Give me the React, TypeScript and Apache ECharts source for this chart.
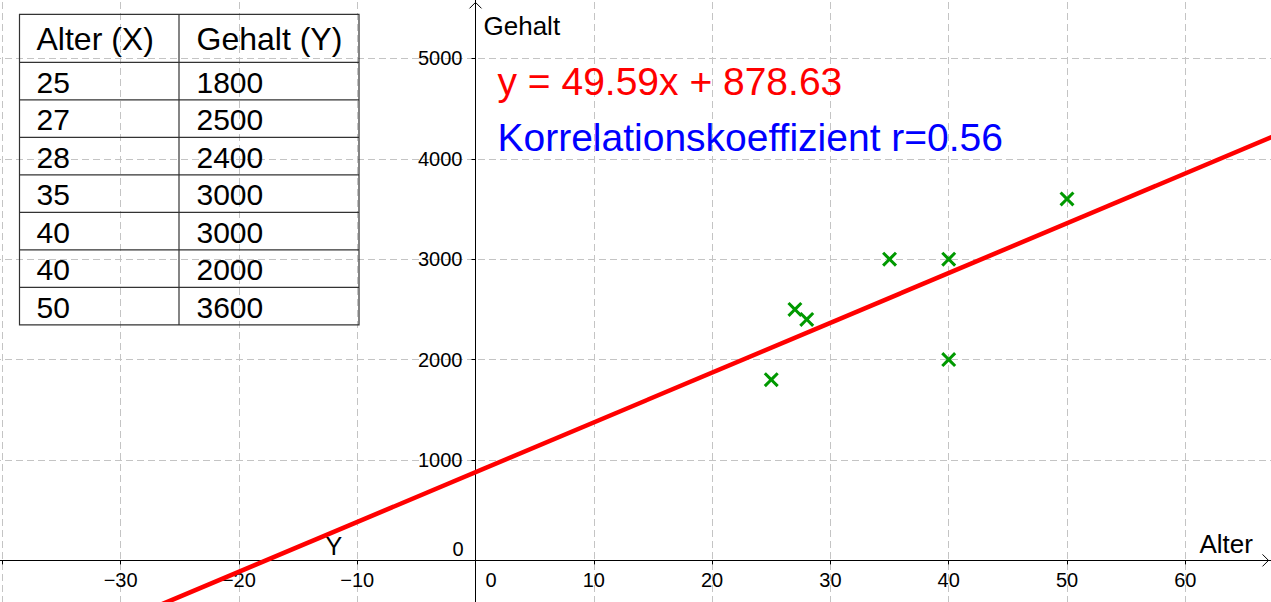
import React, { useEffect, useRef } from "react";
import * as echarts from "echarts";

// ---- data ----
const alterValues: number[] = [25, 27, 28, 35, 40, 40, 50];
const gehaltValues: number[] = [1800, 2500, 2400, 3000, 3000, 2000, 3600];
const tableHeaders: string[] = ["Alter (X)", "Gehalt (Y)"];
const slope = 49.59;
const intercept = 878.63;
const corrR = 0.56;
const xAxisName = "Alter";
const yAxisName = "Gehalt";
const lineLabel = "Y";

const X_MIN = -50;
const X_MAX = 70;
const Y_MIN = -1000;
const Y_MAX = 6000;
// labelled tick range (the rest of the axis lies outside the window)
const X_LABEL_RANGE = [-30, 60];
const Y_LABEL_RANGE = [1000, 5000];

const FONT = "'Liberation Sans', Arial, sans-serif";

// the chart canvas is larger than the window; these are its offsets
const OX = 116.5;
const OY = 42.4;
const VIEW_W = 1271;
const VIEW_H = 602;
const CHART_W = VIEW_W + OX + 32.1;
const CHART_H = VIEW_H + OY + 58.4;

export default function App() {
  const ref = useRef<HTMLDivElement>(null);

  useEffect(() => {
    document.body.style.margin = "0";
    document.body.style.overflow = "hidden";
    if (!ref.current) return;
    const chart = echarts.init(ref.current, undefined, { renderer: "svg", width: CHART_W, height: CHART_H });

    const points = alterValues.map((x, i) => [x, gehaltValues[i]]);
    const lineData = [
      [X_MIN, slope * X_MIN + intercept],
      [X_MAX, slope * X_MAX + intercept],
    ];
    const fmt = (range: number[]) => (v: number) =>
      v === 0 || v < range[0] || v > range[1] ? "" : v < 0 ? "\u2212" + Math.abs(v) : String(v);
    const gridLine = { show: true, lineStyle: { color: "#c4c4c4", width: 1, type: [7, 4] as any } };

    // distance of the zero lines from the grid's left / bottom edges
    const yAxisShift = ((0 - X_MIN) / (X_MAX - X_MIN)) * CHART_W;
    const xAxisShift = ((0 - Y_MIN) / (Y_MAX - Y_MIN)) * CHART_H;

    const option: any = {
      animation: false,
      backgroundColor: "#ffffff",
      grid: { left: 0, right: 0, top: 0, bottom: 0, containLabel: false, outerBoundsMode: "none" },
      xAxis: {
        type: "value",
        position: "bottom",
        offset: -xAxisShift,
        min: X_MIN,
        max: X_MAX,
        interval: 10,
        axisLine: { show: true, onZero: false, lineStyle: { color: "#000", width: 1 } },
        axisTick: { show: true, length: 4, lineStyle: { color: "#000" } },
        axisLabel: { color: "#000", fontFamily: FONT, fontSize: 20, margin: 10, formatter: fmt(X_LABEL_RANGE) },
        splitLine: gridLine,
      },
      yAxis: {
        type: "value",
        position: "left",
        offset: -yAxisShift,
        min: Y_MIN,
        max: Y_MAX,
        interval: 1000,
        axisLine: { show: true, onZero: false, lineStyle: { color: "#000", width: 1 } },
        axisTick: { show: true, length: 4, lineStyle: { color: "#000" } },
        axisLabel: { color: "#000", fontFamily: FONT, fontSize: 20, margin: 13, formatter: fmt(Y_LABEL_RANGE) },
        splitLine: gridLine,
      },
      series: [
        {
          type: "line",
          data: lineData,
          symbol: "none",
          lineStyle: { color: "#ff0000", width: 4.5 },
          z: 3,
          silent: true,
        },
        {
          type: "scatter",
          data: points,
          symbol: "path://M0,2L2,0L7,5L12,0L14,2L9,7L14,12L12,14L7,9L2,14L0,12L5,7Z",
          symbolSize: 15,
          itemStyle: { color: "#009900", opacity: 1 },
          z: 4,
        },
      ],
    };
    chart.setOption(option);

    const [ox, oy] = chart.convertToPixel({ gridIndex: 0 }, [0, 0]) as number[];
    const graphics: any[] = [];
    const txt = (x: number, y: number, text: string, font: string, fill: string, align = "left") => ({
      type: "text",
      x: x + OX,
      y: y + OY,
      style: { text, font, fill, textAlign: align, textVerticalAlign: "middle" },
      z: 10,
    });
    const sx = ox - OX; // origin in window coords
    const sy = oy - OY;

    // axis arrows
    graphics.push({
      type: "polyline",
      shape: { points: [[VIEW_W - 9 + OX, oy - 6], [VIEW_W - 3 + OX, oy], [VIEW_W - 9 + OX, oy + 6]] },
      style: { stroke: "#000", lineWidth: 1, fill: null },
      z: 10,
    });
    graphics.push({
      type: "polyline",
      shape: { points: [[ox - 6, 8 + OY], [ox, 2 + OY], [ox + 6, 8 + OY]] },
      style: { stroke: "#000", lineWidth: 1, fill: null },
      z: 10,
    });
    // zero labels
    graphics.push(txt(sx + 10, sy + 20, "0", `20px ${FONT}`, "#000"));
    graphics.push(txt(sx - 12, sy - 11, "0", `20px ${FONT}`, "#000", "right"));
    // axis names
    graphics.push(txt(sx + 8, 26, yAxisName, `26px ${FONT}`, "#000"));
    graphics.push(txt(1199, sy - 16, xAxisName, `26px ${FONT}`, "#000"));
    // line label
    graphics.push(txt(325, 546, lineLabel, `25px ${FONT}`, "#000"));
    // equation + correlation
    graphics.push(txt(497, 81, `y = ${slope.toFixed(2)}x + ${intercept.toFixed(2)}`, `39px ${FONT}`, "#ff0000"));
    graphics.push(txt(497, 137, `Korrelationskoeffizient r=${corrR}`, `39px ${FONT}`, "#0000ff"));

    // table
    const tL = 19, tR = 358.5, tC = 178.5, tTop = 14, headH = 48, rowH = 37.5;
    const rows = alterValues.length;
    const tBottom = tTop + headH + rows * rowH;
    const stroke = { stroke: "#333", lineWidth: 1.2, fill: null };
    graphics.push({ type: "rect", shape: { x: tL + OX, y: tTop + OY, width: tR - tL, height: tBottom - tTop }, style: stroke, z: 10 });
    graphics.push({ type: "line", shape: { x1: tC + OX, y1: tTop + OY, x2: tC + OX, y2: tBottom + OY }, style: stroke, z: 10 });
    for (let i = 0; i < rows; i++) {
      const yy = tTop + headH + i * rowH + OY;
      graphics.push({ type: "line", shape: { x1: tL + OX, y1: yy, x2: tR + OX, y2: yy }, style: stroke, z: 10 });
    }
    const hFont = `32px ${FONT}`;
    const tFont = `30px ${FONT}`;
    graphics.push(txt(36, tTop + headH / 2 + 1, tableHeaders[0], hFont, "#000"));
    graphics.push(txt(196, tTop + headH / 2 + 1, tableHeaders[1], hFont, "#000"));
    for (let i = 0; i < rows; i++) {
      const cy = tTop + headH + i * rowH + rowH / 2 + 1;
      graphics.push(txt(36, cy, String(alterValues[i]), tFont, "#000"));
      graphics.push(txt(196, cy, String(gehaltValues[i]), tFont, "#000"));
    }

    chart.setOption({ graphic: graphics });

    return () => chart.dispose();
  }, []);

  return (
    <div
      ref={ref}
      style={{ position: "fixed", left: -OX, top: -OY, width: CHART_W, height: CHART_H, background: "#fff" }}
    />
  );
}
